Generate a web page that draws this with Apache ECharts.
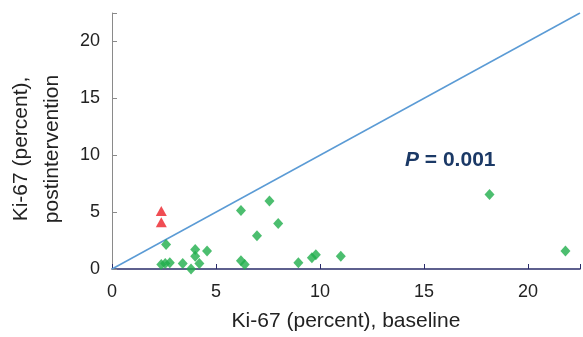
<!DOCTYPE html>
<html><head><meta charset="utf-8">
<script src="https://cdn.jsdelivr.net/npm/echarts@6/dist/echarts.min.js"></script>
<style>html,body{margin:0;padding:0;background:#fff}#c{width:583px;height:337px}</style>
</head><body><div id="c"></div>
<script>
const xTicks = [0, 5, 10, 15, 20];
const yTicks = [0, 5, 10, 15, 20];
const diamondX = [2.6, 2.37, 2.56, 2.78, 3.4, 3.8, 4.0, 4.0, 4.2, 4.57, 6.2, 6.2, 6.38, 6.97, 7.57, 7.99, 8.96, 9.61, 9.8, 11.0, 18.15, 21.8];
const diamondY = [2.15, 0.4, 0.49, 0.55, 0.49, 0.0, 1.72, 1.12, 0.49, 1.58, 5.14, 0.72, 0.4, 2.93, 5.98, 4.0, 0.55, 0.98, 1.26, 1.12, 6.55, 1.58];
const triX = [2.37, 2.37];
const triY = [5.1, 4.1];
const refLine = [[0, 0], [22.5, 22.5]];
const xName = 'Ki-67 (percent), baseline';
const yName = 'Ki-67 (percent),\npostintervention';
const pText = '0.001';

const chart = echarts.init(document.getElementById('c'));
const font = 'Liberation Sans, Arial, sans-serif';
chart.setOption({
  animation: false,
  grid: {left: 112, right: 0, top: 13, bottom: 63},
  xAxis: {
    type: 'value', min: 0, max: 22.5, interval: 5,
    splitLine: {show: false},
    axisLine: {lineStyle: {color: '#2a2c6a', width: 1.5}},
    axisTick: {inside: true, length: 5, lineStyle: {color: '#2a2c6a'}},
    axisLabel: {margin: 14, fontSize: 18, color: '#222', fontFamily: font,
      formatter: v => xTicks.includes(v) ? String(v) : ''},
    name: xName, nameLocation: 'middle', nameGap: 42,
    nameTextStyle: {fontSize: 21, color: '#222', fontFamily: font}
  },
  yAxis: {
    type: 'value', min: 0, max: 22.5, interval: 5,
    splitLine: {show: false},
    axisLine: {show: true, lineStyle: {color: '#8a8a8a', width: 1}},
    axisTick: {show: true, inside: true, length: 5, lineStyle: {color: '#8a8a8a'}},
    axisLabel: {margin: 12, fontSize: 18, color: '#222', fontFamily: font,
      formatter: v => yTicks.includes(v) ? String(v) : ''}
  },
  graphic: [
    {type: 'text', x: 37, y: 149, rotation: Math.PI / 2,
     style: {text: yName, fontSize: 21, fill: '#222', fontFamily: font,
       align: 'center', verticalAlign: 'middle', lineHeight: 31}},
    {type: 'text', x: 405, y: 160,
     style: {text: '{p|P}{n| = ' + pText + '}', verticalAlign: 'middle',
       rich: {
         p: {fontSize: 21, fontWeight: 'bold', fontStyle: 'italic', fill: '#1b3966', fontFamily: font},
         n: {fontSize: 21, fontWeight: 'bold', fill: '#1b3966', fontFamily: font}
       }}}
  ],
  series: [
    {type: 'line', data: refLine, symbol: 'none', silent: true,
     lineStyle: {color: '#5b9bd5', width: 1.5}, z: 1},
    {type: 'scatter', data: diamondX.map((x, i) => [x, diamondY[i]]),
     symbol: 'diamond', symbolSize: [10, 11], itemStyle: {color: '#1fae4b'}, z: 3},
    {type: 'scatter', data: triX.map((x, i) => [x, triY[i]]),
     symbol: 'triangle', symbolSize: [11, 10], itemStyle: {color: '#ec2028'}, z: 3}
  ]
});
</script></body></html>
